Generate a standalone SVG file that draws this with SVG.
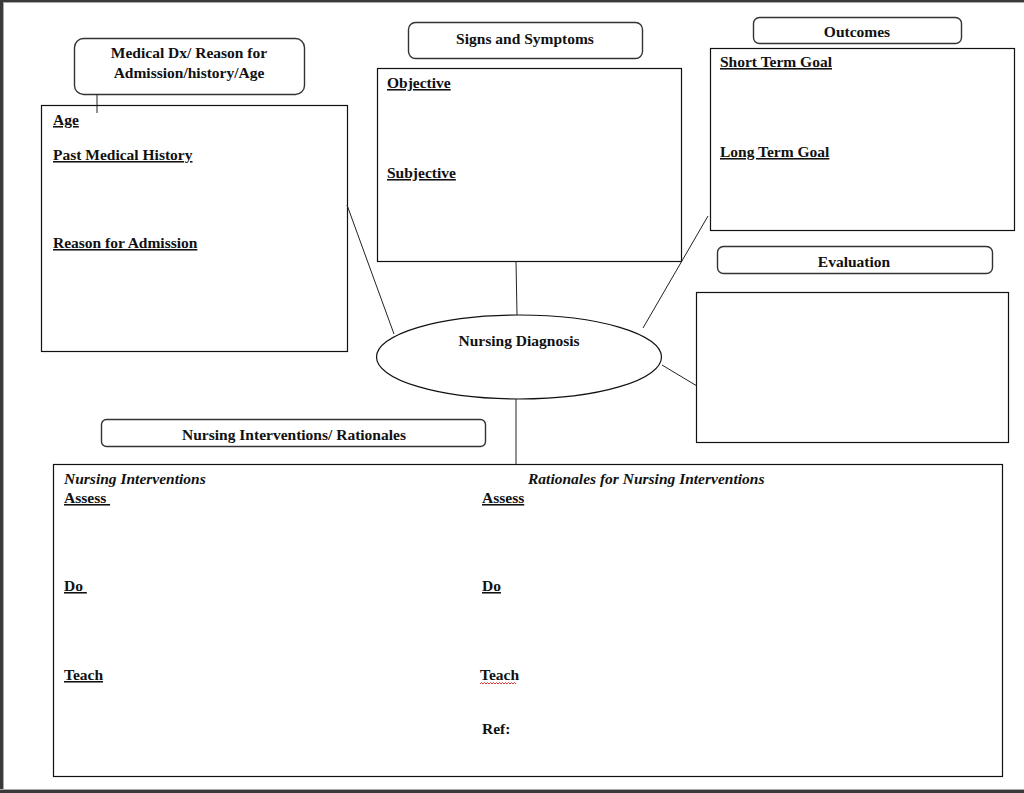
<svg xmlns="http://www.w3.org/2000/svg" width="1024" height="793" viewBox="0 0 1024 793">
<style>
  .t { font-family: "Liberation Serif", "Times New Roman", serif; font-weight: bold; font-size: 15.5px; fill: #111; }
  .u { text-decoration: underline; }
  .i { font-style: italic; }
  .c { text-anchor: middle; }
  .box { fill: #fff; stroke: #111; stroke-width: 1.2; }
  .rbox { fill: #fff; stroke: #333; stroke-width: 1.4; }
  .con line { stroke: #222; stroke-width: 1; }
</style>
<defs>
  <clipPath id="niclip"><rect x="101" y="419" width="385" height="24"/></clipPath>
</defs>
<rect x="0" y="0" width="1024" height="793" fill="#fff"/>
<g id="page-frame">
  <rect x="0" y="0" width="1024" height="2" fill="#3a3a3a"/>
  <rect x="0" y="2" width="1024" height="1" fill="#aaa"/>
  <rect x="0" y="0" width="3" height="793" fill="#3a3a3a"/>
  <rect x="3" y="3" width="1" height="787" fill="#aaa"/>
  <rect x="0" y="789" width="1024" height="1" fill="#aaa"/>
  <rect x="0" y="790" width="1024" height="3" fill="#3a3a3a"/>
</g>

<g id="medical-dx">
  <rect class="rbox" x="74.5" y="38.5" width="230" height="56" rx="9"/>
  <text class="t c" x="189" y="58">Medical Dx/ Reason for</text>
  <text class="t c" x="189" y="78">Admission/history/Age</text>
</g>

<g id="history-box">
  <rect class="box" x="41.5" y="105.5" width="306" height="246"/>
  <text class="t u" x="53" y="125">Age</text>
  <text class="t u" x="53" y="160">Past Medical History</text>
  <text class="t u" x="53" y="248">Reason for Admission</text>
</g>

<g id="signs-symptoms">
  <rect class="rbox" x="408.5" y="22.5" width="234" height="36" rx="7"/>
  <text class="t c" x="525" y="44">Signs and Symptoms</text>
</g>

<g id="signs-box">
  <rect class="box" x="377.5" y="68.5" width="304" height="193"/>
  <text class="t u" x="387" y="88">Objective</text>
  <text class="t u" x="387" y="178">Subjective</text>
</g>

<g id="outcomes">
  <rect class="rbox" x="753.5" y="17.5" width="208" height="26" rx="6"/>
  <text class="t c" x="857" y="37">Outcomes</text>
</g>

<g id="goals-box">
  <rect class="box" x="710.5" y="48.5" width="304" height="182"/>
  <text class="t u" x="720" y="67">Short Term Goal</text>
  <text class="t u" x="720" y="157">Long Term Goal</text>
</g>

<g id="evaluation">
  <rect class="rbox" x="717.5" y="246.5" width="275" height="27" rx="6"/>
  <text class="t c" x="854" y="267">Evaluation</text>
</g>

<g id="evaluation-box">
  <rect class="box" x="696.5" y="292.5" width="312" height="150"/>
</g>

<g id="nursing-diagnosis">
  <ellipse cx="519" cy="357" rx="142.5" ry="42" fill="#fff" stroke="#111" stroke-width="1.2"/>
  <text class="t c" x="519" y="346">Nursing Diagnosis</text>
</g>

<g id="interventions-title">
  <rect class="rbox" x="101.5" y="419.5" width="384" height="27" rx="5"/>
  <text class="t c" x="294" y="440" clip-path="url(#niclip)">Nursing Interventions/ Rationales</text>
</g>

<g id="interventions-box">
  <rect class="box" x="53.5" y="464.5" width="949" height="312"/>
  <text class="t i" x="64" y="484">Nursing Interventions</text>
  <text class="t u" x="64" y="503" xml:space="preserve">Assess </text>
  <text class="t u" x="64" y="591" xml:space="preserve">Do </text>
  <text class="t u" x="64" y="680">Teach</text>
  <text class="t i" x="528" y="484">Rationales for Nursing Interventions</text>
  <text class="t u" x="482" y="503">Assess</text>
  <text class="t u" x="482" y="591">Do</text>
  <text class="t" x="480" y="680">Teach</text>
  <path d="M480 684 l1.5 -1.5 l1.5 1.5 l1.5 -1.5 l1.5 1.5 l1.5 -1.5 l1.5 1.5 l1.5 -1.5 l1.5 1.5 l1.5 -1.5 l1.5 1.5 l1.5 -1.5 l1.5 1.5 l1.5 -1.5 l1.5 1.5 l1.5 -1.5 l1.5 1.5 l1.5 -1.5 l1.5 1.5 l1.5 -1.5 l1.5 1.5 l1.5 -1.5 l1.5 1.5 l1.5 -1.5 l1.5 1.5" fill="none" stroke="#d22" stroke-width="0.9"/>
  <text class="t" x="482" y="734">Ref:</text>
</g>

<g class="con" id="connectors">
  <line x1="97" y1="94" x2="97" y2="113"/>
  <line x1="347" y1="205" x2="394" y2="334"/>
  <line x1="516" y1="261" x2="517" y2="315"/>
  <line x1="708" y1="216" x2="643" y2="328"/>
  <line x1="662" y1="365" x2="697" y2="386"/>
  <line x1="516" y1="399" x2="516" y2="464"/>
</g>
</svg>
